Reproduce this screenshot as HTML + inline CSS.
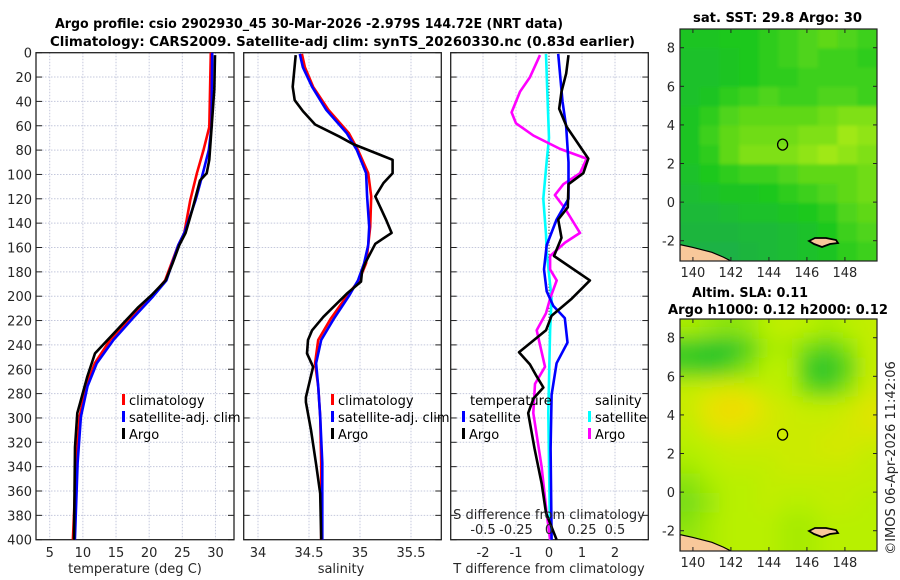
<!DOCTYPE html>
<html><head><meta charset="utf-8"><style>
html,body{margin:0;padding:0;background:#fff;}
svg{display:block;font-family:"DejaVu Sans","Liberation Sans",sans-serif;}
.tk{font-size:13px;fill:#262626;}
.tt{font-size:13px;font-weight:bold;fill:#000;}
.lg{font-size:13px;fill:#000;}
</style></head><body>
<svg id="chart" width="900" height="580" viewBox="0 0 900 580">
<g id="g-titles">
<text class="tt" x="55" y="28" textLength="508" lengthAdjust="spacingAndGlyphs">Argo profile: csio 2902930_45 30-Mar-2026 -2.979S 144.72E (NRT data)</text>
<text class="tt" x="50" y="46" textLength="585" lengthAdjust="spacingAndGlyphs">Climatology: CARS2009. Satellite-adj clim: synTS_20260330.nc (0.83d earlier)</text>
<text class="tt" x="693" y="22" textLength="169" lengthAdjust="spacingAndGlyphs">sat. SST: 29.8 Argo: 30</text>
<text class="tt" x="692" y="297" textLength="116" lengthAdjust="spacingAndGlyphs">Altim. SLA: 0.11</text>
<text class="tt" x="668" y="314" textLength="220" lengthAdjust="spacingAndGlyphs">Argo h1000: 0.12 h2000: 0.12</text>
<text class="tk" transform="translate(895,458) rotate(-90)" text-anchor="middle">©IMOS 06-Apr-2026 11:42:06</text>
</g>
<g id="g-p1"></g>
<g id="g-p2"></g>
<g id="g-p3"></g>
<g id="g-m1"></g>
<g id="g-m2"></g>
</svg>
<script>
// ---------- data ----------
const depthTicks=[0,20,40,60,80,100,120,140,160,180,200,220,240,260,280,300,320,340,360,380,400];
const tempTicks=[5,10,15,20,25,30];
const salTicks=[34,34.5,35,35.5];
const salTickLabels=["34","34.5","35","35.5"];
const tdiffTicks=[-2,-1,0,1,2];
const sdiffTicks=[-0.5,-0.25,0,0.25,0.5];
const sdiffTickLabels=["-0.5","-0.25","0","0.25","0.5"];

const argoTDepth=[2,30,88,99,105,129,148,158,173,187,199,209,228,247,266,288,296,324,400];
const argoT=[29.93,29.83,29.07,28.67,27.67,26.51,25.5,24.55,23.54,22.49,20.38,18.36,15.1,11.83,10.67,9.57,9.16,8.81,8.66];
const climDepth=[0,61,80,99,121,148,158,187,200,219,236,255,274,299,337,400];
const climT=[29.3,29.07,28.2,27.2,26.2,25.3,24.4,22.4,20.4,17.1,14.1,11.8,10.5,9.5,9.0,8.5];
const satT=[29.5,29.4,29.0,28.1,27.0,25.3,24.4,22.6,20.6,17.4,14.6,12.1,10.7,9.7,9.2,8.8];

const argoSDepth=[2,28,39,48,59,69,75,88,99,107,118,138,148,157,173,180,188,198,217,228,236,247,258,283,287,310,338,362,400];
const argoS=[34.37,34.34,34.36,34.44,34.56,34.80,34.93,35.32,35.32,35.23,35.15,35.26,35.31,35.15,35.05,35.02,35.01,34.87,34.64,34.53,34.49,34.48,34.54,34.47,34.47,34.52,34.57,34.61,34.62];
const climSDepth=[1,12,28,47,66,80,99,118,143,158,173,187,200,219,236,255,274,299,337,400];
const climS=[34.43,34.46,34.54,34.69,34.89,34.98,35.08,35.11,35.10,35.08,35.06,34.99,34.87,34.71,34.59,34.56,34.59,34.61,34.62,34.62];
const satS=[34.41,34.44,34.53,34.67,34.87,34.97,35.06,35.07,35.09,35.08,35.04,34.98,34.89,34.74,34.62,34.57,34.59,34.61,34.63,34.63];

const dTsatDepth=[1,40,61,90,120,137,158,178,196,208,218,238,255,281,325,400];
const dTsat=[0.28,0.41,0.52,0.59,0.59,0.23,-0.07,-0.15,-0.07,0.13,0.48,0.56,0.23,0.08,0.05,0.08];
const dTargoDepth=[2,17,32,46,61,87,99,108,127,137,152,167,187,202,216,228,246,256,266,275,284,296,325,354,378,400];
const dTargo=[0.59,0.52,0.38,0.31,0.54,1.19,1.04,0.59,0.57,0.28,0.38,0.15,1.24,0.69,0.08,-0.09,-0.91,-0.58,-0.37,-0.17,-0.47,-0.63,-0.44,-0.22,-0.09,0.23];
const dSsatDepth=[1,32,70,90,120,149,163,202,228,296,400];
const dSsat=[-0.023,-0.013,0,-0.018,-0.043,-0.023,-0.018,0.02,0.008,-0.005,0.008];
const dSargoDepth=[2,20,32,49,58,68,79,87,99,108,117,128,148,156,167,178,187,202,214,228,258,272,296,340,378,400];
const dSargo=[-0.068,-0.144,-0.22,-0.283,-0.25,-0.119,0.083,0.285,0.235,0.109,0.045,0.121,0.235,0.121,0.008,0.008,0.058,0.008,-0.023,-0.093,-0.03,-0.106,-0.119,-0.056,-0.018,0.008];

const sstGrid=[
[.35,.35,.4,.4,.45,.5,.55,.6,.55,.5],
[.3,.3,.35,.4,.45,.5,.55,.5,.5,.45],
[.3,.3,.35,.4,.45,.45,.5,.5,.5,.5],
[.3,.35,.45,.5,.55,.5,.5,.55,.55,.5],
[.35,.45,.55,.6,.6,.6,.6,.65,.7,.7],
[.35,.5,.6,.65,.65,.65,.7,.7,.8,.75],
[.35,.45,.6,.7,.7,.7,.75,.8,.75,.7],
[.3,.4,.45,.5,.5,.55,.6,.6,.6,.65],
[.25,.3,.35,.35,.4,.45,.5,.55,.6,.65],
[.2,.2,.25,.3,.3,.35,.4,.45,.55,.6],
[.15,.15,.15,.2,.2,.25,.3,.4,.5,.55],
[.1,.1,.1,.15,.2,.25,.3,.35,.45,.5]];
const slaGrid=[
[.45,.4,.35,.4,.5,.55,.5,.45,.5,.55],
[.1,.05,.05,.2,.45,.45,.3,.2,.35,.55],
[.15,.1,.2,.35,.5,.5,.1,.05,.2,.55],
[.55,.6,.65,.6,.55,.5,.25,.15,.35,.6],
[.6,.75,.85,.8,.65,.6,.55,.55,.6,.7],
[.55,.7,.75,.7,.65,.6,.6,.6,.65,.7],
[.5,.55,.6,.6,.6,.6,.6,.65,.65,.6],
[.45,.5,.55,.55,.55,.6,.6,.6,.6,.55],
[.35,.45,.5,.5,.55,.55,.55,.55,.55,.55],
[.3,.4,.5,.5,.55,.5,.5,.55,.55,.5],
[.35,.45,.5,.5,.5,.45,.45,.5,.5,.5],
[.4,.45,.5,.5,.5,.45,.45,.5,.5,.5]];
const lonTicks=[140,142,144,146,148];
const latTicks=[8,6,4,2,0,-2];
const argoLon=144.72, argoLat=2.98;

// ---------- helpers ----------
const NS="http://www.w3.org/2000/svg";
function mk(tag,attrs,parent){const e=document.createElementNS(NS,tag);for(const k in attrs)e.setAttribute(k,attrs[k]);parent.appendChild(e);return e;}
const Y0=52.7, KY=1.2175, YB=Y0+400*KY;
const yD=d=>Y0+d*KY;
const xT=t=>36+(t-2.93)*6.63;
const xS=s=>243+(s-33.853)*102;
const xD=t=>549+t*33;
const xDS=s=>549+s*132;

function frame(g,x0,x1,xticks,xf,showY){
  for(const d of depthTicks){ if(d===0||d===400)continue;
    const l=mk('line',{x1:x0,x2:x1,y1:yD(d),y2:yD(d),stroke:'#c4c8dc','stroke-width':1,'stroke-dasharray':'1.5,1.5'},g);
    }
  for(const v of xticks){const x=xf(v);
    const l=mk('line',{x1:x,x2:x,y1:Y0,y2:YB,stroke:'#c4c8dc','stroke-width':1,'stroke-dasharray':'1.5,1.5'},g);
    }
  for(const d of depthTicks){
    mk('line',{x1:x0,x2:x0+6,y1:yD(d),y2:yD(d),stroke:'#222','stroke-width':1},g);
    mk('line',{x1:x1-6,x2:x1,y1:yD(d),y2:yD(d),stroke:'#222','stroke-width':1},g);
    if(showY){const t=mk('text',{x:x0-4,y:yD(d)+5,'text-anchor':'end',class:'tk'},g);t.textContent=d;
      }
  }
  const r=mk('rect',{x:x0,y:Y0,width:x1-x0,height:YB-Y0,fill:'none',stroke:'#222','stroke-width':1.3},g);
  
}
function line(g,depths,vals,xf,color,name,w){
  const pts=depths.map((d,i)=>xf(vals[i]).toFixed(1)+','+yD(d).toFixed(1)).join(' ');
  const p=mk('polyline',{points:pts,fill:'none',stroke:color,'stroke-width':w||2.6,'stroke-linejoin':'round'},g);
  
}
function xlab(g,vals,labels,xf,y){vals.forEach((v,i)=>{const t=mk('text',{x:xf(v),y:y,'text-anchor':'middle',class:'tk'},g);t.textContent=labels[i];
  });}
function legend(g,x,y,items){items.forEach((it,i)=>{
  const m=mk('rect',{x:x,y:y+i*17-11,width:3,height:11,fill:it[1]},g);
  
  const t=mk('text',{x:x+7,y:y+i*17,class:'lg'},g);t.textContent=it[0];
  });}

// ---------- panel 1 ----------
const p1=document.getElementById('g-p1');
frame(p1,36,234,tempTicks,xT,true);
line(p1,climDepth,climT,xT,'#ff0000','climatology-temperature-line');
line(p1,climDepth,satT,xT,'#0000ff','satellite-temperature-line');
line(p1,argoTDepth,argoT,xT,'#000','argo-temperature-line');
xlab(p1,tempTicks,tempTicks.map(String),xT,557);
let t=mk('text',{x:135,y:573,'text-anchor':'middle',class:'tk'},p1);t.textContent='temperature (deg C)';

legend(p1,122,405,[['climatology','#ff0000'],['satellite-adj. clim','#0000ff'],['Argo','#000']]);

// ---------- panel 2 ----------
const p2=document.getElementById('g-p2');
frame(p2,243.7,441.3,salTicks,xS,false);
line(p2,climSDepth,climS,xS,'#ff0000','climatology-salinity-line');
line(p2,climSDepth,satS,xS,'#0000ff','satellite-salinity-line');
line(p2,argoSDepth,argoS,xS,'#000','argo-salinity-line');
xlab(p2,salTicks,salTickLabels,xS,557);
t=mk('text',{x:341,y:573,'text-anchor':'middle',class:'tk'},p2);t.textContent='salinity';

legend(p2,331,405,[['climatology','#ff0000'],['satellite-adj. clim','#0000ff'],['Argo','#000']]);

// ---------- panel 3 ----------
const p3=document.getElementById('g-p3');
frame(p3,450.7,648.3,tdiffTicks.filter(v=>v!==0),xD,false);
mk('line',{x1:549,x2:549,y1:Y0,y2:YB,stroke:'#000','stroke-width':1,'stroke-dasharray':'1,2'},p3);
line(p3,dSsatDepth,dSsat,xDS,'#00ffff','salinity-satellite-diff-line');
line(p3,dSargoDepth,dSargo,xDS,'#ff00ff','salinity-argo-diff-line');
line(p3,dTsatDepth,dTsat,xD,'#0000ff','temperature-satellite-diff-line');
line(p3,dTargoDepth,dTargo,xD,'#000','temperature-argo-diff-line');
xlab(p3,tdiffTicks,tdiffTicks.map(String),xD,557);
t=mk('text',{x:549,y:573,'text-anchor':'middle',class:'tk'},p3);t.textContent='T difference from climatology';

t=mk('text',{x:549,y:519,'text-anchor':'middle',class:'tk'},p3);t.textContent='S difference from climatology';

xlab(p3,sdiffTicks,sdiffTickLabels,xDS,534);
t=mk('text',{x:470,y:405,class:'lg'},p3);t.textContent='temperature';

t=mk('text',{x:595,y:405,class:'lg'},p3);t.textContent='salinity';

legend(p3,462,422,[['satellite','#0000ff'],['Argo','#000']]);
legend(p3,588,422,[['satellite','#00ffff'],['Argo','#ff00ff']]);

// ---------- maps ----------
function lerpC(stops,v){for(let i=0;i<stops.length-1;i++){const a=stops[i],b=stops[i+1];if(v<=b[0]){const f=(v-a[0])/(b[0]-a[0]);
  return 'rgb('+[1,2,3].map(k=>Math.round(a[k]+(b[k]-a[k])*f)).join(',')+')';}}const l=stops[stops.length-1];return 'rgb('+l[1]+','+l[2]+','+l[3]+')';}
const sstStops=[[0,24,170,80],[0.4,30,200,30],[0.8,160,232,20],[1,200,240,20]];
const slaStops=[[0,24,192,48],[0.5,184,240,0],[0.8,240,224,0],[1,245,200,0]];
function map(gid,top,grid,stops,blur){
  const g=document.getElementById(gid);
  const L=680,R=877,T=top,B=top+232;
  const lx=lon=>L+(lon-139.32)*19, ly=lat=>T+(8.97-lat)*19.3;
  const defs=mk('defs',{},g);
  const cp=mk('clipPath',{id:gid+'-clip'},defs);mk('rect',{x:L,y:T,width:R-L,height:B-T},cp);
  const f=mk('filter',{id:gid+'-blur',x:'-10%',y:'-10%',width:'120%',height:'120%'},defs);mk('feGaussianBlur',{stdDeviation:blur},f);
  const outer=mk('g',{'clip-path':'url(#'+gid+'-clip)'},g);
  const inner=mk('g',{filter:'url(#'+gid+'-blur)'},outer);
  const nr=grid.length,nc=grid[0].length,cw=(R-L)/nc,ch=(B-T)/nr;
  for(let r=0;r<nr;r++)for(let c=0;c<nc;c++){
    const cell=mk('rect',{x:L+c*cw-(c===0?20:0),y:T+r*ch-(r===0?20:0),width:cw+1+(c===0||c===nc-1?20:0),height:ch+1+(r===0||r===nr-1?20:0),fill:lerpC(stops,grid[r][c])},inner);
    }
  const land=mk('path',{d:`M${L} ${ly(-2.2)} L${lx(140)} ${ly(-2.35)} L${lx(141)} ${ly(-2.6)} L${lx(141.6)} ${ly(-2.85)} L${lx(142.1)} ${ly(-3.1)} L${L} ${B+2} Z`,fill:'#f8c89a',stroke:'#000','stroke-width':1.2},outer);
  
  const isl=mk('path',{d:`M809 ${T+212} L815 ${T+209} L826 ${T+209} L836 ${T+211} L838 ${T+214} L830 ${T+215} L822 ${T+218} L814 ${T+215} Z`,fill:'#f8c89a',stroke:'#000','stroke-width':1.8},outer);
  
  const circ=mk('ellipse',{cx:lx(argoLon),cy:ly(argoLat),rx:5,ry:5.5,fill:'none',stroke:'#000','stroke-width':1.3},g);
  
  mk('rect',{x:L,y:T,width:R-L,height:B-T,fill:'none',stroke:'#222','stroke-width':1.2},g);
  for(const lon of lonTicks){const x=lx(lon);mk('line',{x1:x,x2:x,y1:B,y2:B-4,stroke:'#222'},g);mk('line',{x1:x,x2:x,y1:T,y2:T+4,stroke:'#222'},g);
    const tl=mk('text',{x:x,y:B+16,'text-anchor':'middle',class:'tk'},g);tl.textContent=lon;
    }
  for(const lat of latTicks){const y=ly(lat);mk('line',{x1:L,x2:L+4,y1:y,y2:y,stroke:'#222'},g);mk('line',{x1:R-4,x2:R,y1:y,y2:y,stroke:'#222'},g);
    const tl=mk('text',{x:L-5,y:y+5,'text-anchor':'end',class:'tk'},g);tl.textContent=lat;
    }
}
map('g-m1',29,sstGrid,sstStops,1.5);
map('g-m2',319,slaGrid,slaStops,9);
</script>
</body></html>
